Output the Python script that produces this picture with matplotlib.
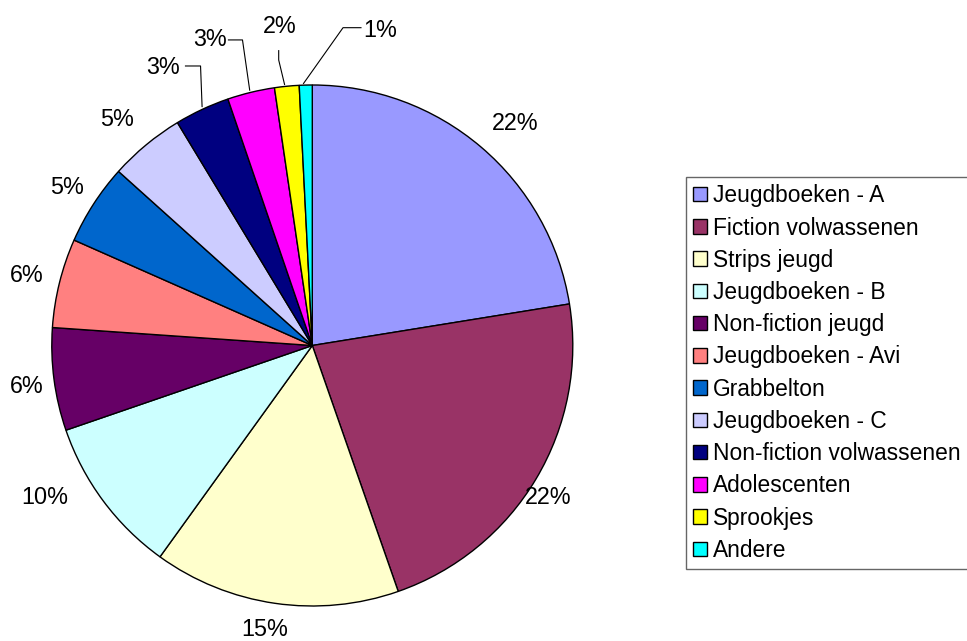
import matplotlib
matplotlib.use("Agg")
import matplotlib.pyplot as plt

# ---- data ----
categories = ["Jeugdboeken - A", "Fiction volwassenen", "Strips jeugd", "Jeugdboeken - B",
              "Non-fiction jeugd", "Jeugdboeken - Avi", "Grabbelton", "Jeugdboeken - C",
              "Non-fiction volwassenen", "Adolescenten", "Sprookjes", "Andere"]
shares = [22.45, 22.20, 15.29, 9.79, 6.37, 5.53, 5.02, 4.69, 3.41, 2.93, 1.52, 0.80]

# ---- style / layout ----
colors = ["#9999FF", "#993366", "#FFFFCC", "#CCFFFF", "#660066", "#FF8080",
          "#0066CC", "#CCCCFF", "#000080", "#FF00FF", "#FFFF00", "#00FFFF"]
# label centres in pie-radius units
label_pos = [(0.777, 0.854), (0.904, -0.582), (-0.182, -1.092), (-1.027, -0.582),
             (-1.096, -0.159), (-1.096, 0.267), (-0.942, 0.605), (-0.750, 0.866),
             (-0.574, 1.069), (-0.393, 1.173), (-0.125, 1.223), (0.259, 1.211)]
# leader lines (index -> polyline in pie-radius units)
leaders = {
    8: [(-0.489, 1.073), (-0.429, 1.073), (-0.423, 0.915)],
    9: [(-0.324, 1.173), (-0.268, 1.173), (-0.240, 0.978)],
    10: [(-0.129, 1.134), (-0.129, 1.096), (-0.106, 1.0)],
    11: [(0.189, 1.220), (0.118, 1.220), (-0.035, 1.004)],
}

plt.rcParams['font.family'] = ['Liberation Sans', 'DejaVu Sans']

W, H = 967, 641
fig = plt.figure(figsize=(W / 100, H / 100), dpi=100)
fig.patch.set_facecolor("white")

cx, cy, r = 312.3, 345.5, 260.5
ax = fig.add_axes([(cx - r) / W, (H - cy - r) / H, 2 * r / W, 2 * r / H])
wedges, _ = ax.pie(shares, colors=colors, startangle=90, counterclock=False, radius=1,
                   wedgeprops=dict(edgecolor="black", linewidth=1.0))
ax.set_xlim(-1, 1)
ax.set_ylim(-1, 1)
ax.set_aspect("equal")
ax.axis("off")

for i, (val, (u, v)) in enumerate(zip(shares, label_pos)):
    ax.text(u, v, f"{int(val + 0.5)}%", ha="center", va="center", fontsize=16.8,
            color="black", clip_on=False)

for i, pts in leaders.items():
    xs = [p[0] for p in pts]
    ys = [p[1] for p in pts]
    ax.plot(xs, ys, color="black", lw=0.8, clip_on=False, solid_capstyle="butt")

leg = fig.legend(wedges, categories, loc="upper left",
                 bbox_to_anchor=(686 / W, 1 - 177 / H), borderaxespad=0,
                 fontsize=16.4, frameon=True, fancybox=False, shadow=False,
                 handlelength=0.6, handleheight=0.6, handletextpad=0.28,
                 labelspacing=0.405, borderpad=0.32)
leg.get_frame().set_edgecolor("#404040")
leg.get_frame().set_linewidth(1.0)
for h in leg.legend_handles:
    h.set_edgecolor("black")
    h.set_linewidth(1.0)

fig.savefig("out.png", dpi=100)
